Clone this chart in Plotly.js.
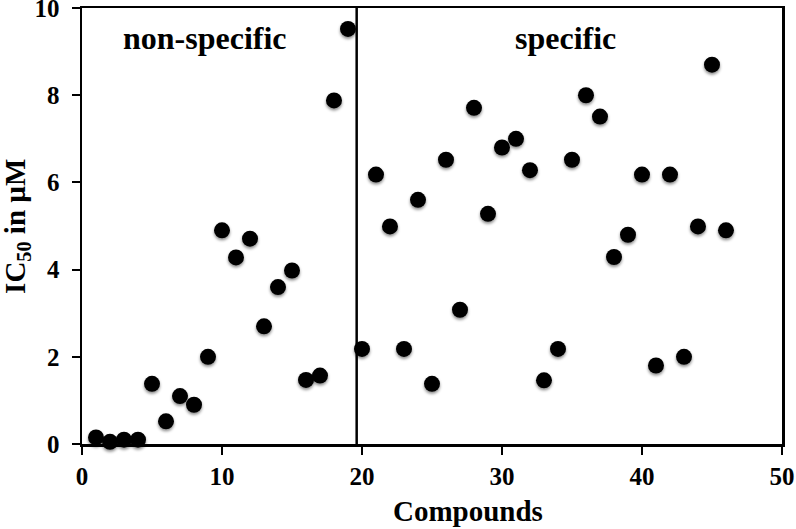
<!DOCTYPE html>
<html>
<head>
<meta charset="utf-8">
<script src="https://cdn.plot.ly/plotly-3.0.1.min.js"></script>
<style>
html,body{margin:0;padding:0;background:#fff;}
#chart{width:796px;height:529px;}
#chart .scatterlayer .points path{filter:drop-shadow(0.5px 2px 1.5px rgba(0,0,0,0.45));}
</style>
</head>
<body>
<div id="chart"></div>
<script>
const compounds = [1,2,3,4,5,6,7,8,9,10,11,12,13,14,15,16,17,18,19,20,21,22,23,24,25,26,27,28,29,30,31,32,33,34,35,36,37,38,39,40,41,42,43,44,45,46];
const ic50 = [0.15,0.05,0.1,0.1,1.38,0.52,1.1,0.9,2.0,4.9,4.28,4.71,2.7,3.6,3.98,1.47,1.57,7.88,9.52,2.18,6.18,4.99,2.18,5.6,1.38,6.52,3.08,7.71,5.28,6.8,7.0,6.28,1.46,2.18,6.52,8.0,7.51,4.29,4.8,6.18,1.8,6.18,2.0,4.99,8.7,4.9];
const dividerX = 19.62;
const groupLabels = ["non-specific", "specific"];
const groupLabelX = [8.8, 34.55];
const groupLabelY = 9.32;
const xTicks = [0,10,20,30,40,50];
const yTicks = [0,2,4,6,8,10];

const font = "'Liberation Serif', 'Times New Roman', serif";

const trace = {
  x: compounds, y: ic50, type: 'scatter', mode: 'markers',
  marker: {color: '#000', size: 16, line: {width: 0}},
  cliponaxis: false, hoverinfo: 'x+y'
};

const axisCommon = {
  showgrid: false, zeroline: false, showline: true, linecolor: '#000', linewidth: 2.5,
  ticks: 'outside', ticklen: 8, tickwidth: 2, tickcolor: '#000', mirror: true,
  ticklabeloverflow: 'allow',
  tickfont: {family: font, size: 25, color: '#000', weight: 'bold'}
};

const layout = {
  width: 796, height: 529,
  margin: {l: 82, r: 14, t: 8, b: 85},
  paper_bgcolor: '#fff', plot_bgcolor: '#fff',
  showlegend: false,
  xaxis: Object.assign({}, axisCommon, {range: [0, 50.001], tickvals: xTicks, ticktext: xTicks.map(String), ticklabelstandoff: 0}),
  yaxis: Object.assign({}, axisCommon, {range: [0, 10.0005], tickvals: yTicks, ticktext: yTicks.map(String), ticklabelstandoff: 7}),
  shapes: [{type: 'line', xref: 'x', yref: 'y', x0: dividerX, x1: dividerX, y0: 0, y1: 10, line: {color: '#000', width: 2.5}}],
  annotations: [
    {text: '<b>' + groupLabels[0] + '</b>', x: groupLabelX[0], y: groupLabelY, xref: 'x', yref: 'y', showarrow: false, font: {family: font, size: 32, color: '#000'}},
    {text: '<b>' + groupLabels[1] + '</b>', x: groupLabelX[1], y: groupLabelY, xref: 'x', yref: 'y', showarrow: false, font: {family: font, size: 32, color: '#000'}},
    {text: '<b>Compounds</b>', x: 0.551, y: -0.153, xref: 'paper', yref: 'paper', showarrow: false, xanchor: 'center', yanchor: 'middle', font: {family: font, size: 29, color: '#000'}},
    {text: '<b>IC<sub>50</sub> in µM</b>', x: -0.093, y: 0.5, xref: 'paper', yref: 'paper', showarrow: false, textangle: -90, xanchor: 'center', yanchor: 'middle', font: {family: font, size: 29, color: '#000'}}
  ]
};

Plotly.newPlot('chart', [trace], layout, {displayModeBar: false, staticPlot: true});
</script>
</body>
</html>
